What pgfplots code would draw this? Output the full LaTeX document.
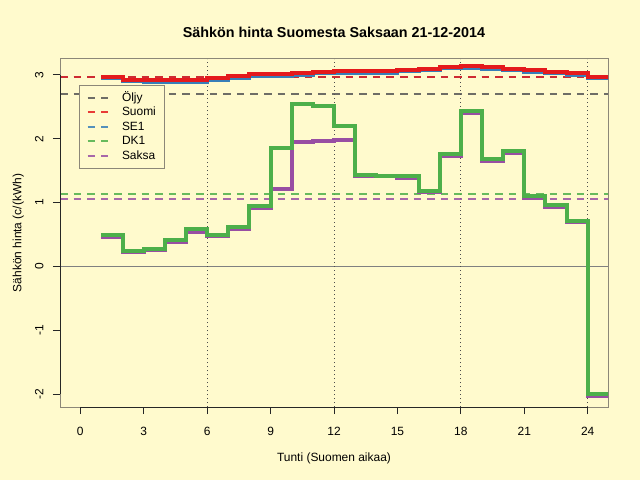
\documentclass[border=0pt]{standalone}
\usepackage{fontspec}
\setmainfont{Liberation Sans}
\usepackage{pgfplots}
\pgfplotsset{compat=1.18}
\usepackage{pgfplotstable}
\definecolor{bg}{RGB}{255,250,205}
\definecolor{boxc}{RGB}{140,135,120}
\definecolor{oljy}{RGB}{85,85,85}
\definecolor{suomi}{HTML}{E41A1C}
\definecolor{se}{HTML}{377EB8}
\definecolor{dk}{HTML}{4DAF4A}
\definecolor{saksa}{HTML}{984EA3}
\pgfplotstableread{
x y
1 2.970
2 2.925
3 2.920
4 2.920
5 2.920
6 2.950
7 2.980
8 3.010
9 3.010
10 3.030
11 3.050
12 3.060
13 3.060
14 3.060
15 3.080
16 3.100
17 3.130
18 3.140
19 3.120
20 3.100
21 3.070
22 3.050
23 3.030
24 2.970
25 2.970
}\suomi
\pgfplotstableread{
x y
1 2.945
2 2.900
3 2.895
4 2.895
5 2.895
6 2.925
7 2.955
8 2.985
9 2.985
10 3.005
11 3.025
12 3.035
13 3.035
14 3.035
15 3.055
16 3.075
17 3.105
18 3.115
19 3.095
20 3.075
21 3.045
22 3.025
23 3.005
24 2.945
25 2.945
}\seone
\pgfplotstableread{
x y
1 0.49
2 0.25
3 0.28
4 0.42
5 0.58
6 0.50
7 0.62
8 0.95
9 1.85
10 2.54
11 2.51
12 2.20
13 1.43
14 1.42
15 1.42
16 1.19
17 1.76
18 2.44
19 1.69
20 1.81
21 1.10
22 0.96
23 0.72
24 -2.00
25 -2.00
}\dkone
\pgfplotstableread{
x y
1 0.47
2 0.225
3 0.26
4 0.39
5 0.545
6 0.475
7 0.58
8 0.92
9 1.22
10 1.95
11 1.97
12 1.98
13 1.41
14 1.41
15 1.39
16 1.16
17 1.73
18 2.41
19 1.66
20 1.78
21 1.08
22 0.93
23 0.69
24 -2.02
25 -2.02
}\saksa
\tikzset{avg/.style={line width=2bp, dash pattern=on 7.6bp off 6bp, opacity=0.85}}
\begin{document}
\begin{tikzpicture}
\fill[bg] (-60bp,-73bp) rectangle (580bp,407bp);
\begin{axis}[
  at={(0bp,0bp)}, anchor=south west,
  width=548bp, height=348bp, scale only axis,
  xmin=-0.96, xmax=24.96, ymin=-2.2, ymax=3.25,
  clip mode=individual,
  axis background/.style={fill=bg},
  axis line style={draw=boxc, line width=1bp},
  tick style={draw=black!85, line width=1bp},
  major tick length=7bp, tick align=outside,
  xtick={0,3,...,24}, ytick={-2,-1,0,1,2,3},
  xtick pos=bottom, ytick pos=left,
  /pgf/number format/assume math mode=true,
  ticklabel style={font=\fontsize{12}{14}\selectfont},
  xticklabel style={yshift=-10bp},
  yticklabel style={xshift=-6bp, rotate=90, anchor=south},
  title={Sähkön hinta Suomesta Saksaan 21-12-2014},
  title style={at={([yshift=15.8bp]axis description cs:0.5,1)}, anchor=base, font=\bfseries\fontsize{14.4}{16}\selectfont, inner sep=0pt},
  xlabel={Tunti (Suomen aikaa)},
  xlabel style={at={([yshift=-54bp]axis description cs:0.5,0)}, anchor=base, font=\fontsize{12}{14}\selectfont, inner sep=0pt},
  ylabel={Sähkön hinta (c/(kWh)},
  ylabel style={at={([xshift=-38.5bp]axis description cs:0,0.5)}, anchor=base, rotate=0, font=\fontsize{12}{14}\selectfont, inner sep=0pt},
  legend style={at={(rel axis cs:0.0347,0.925)}, anchor=north west, draw=boxc, line width=1bp, fill=bg,
    font=\fontsize{12}{14}\selectfont, inner xsep=7bp, inner ysep=5bp, column sep=12bp,
    nodes={inner sep=1.5bp, text height=9bp, text depth=2.5bp}, row sep=0bp},
  legend cell align=left,
  legend image code/.code={\draw[#1] (0bp,0bp) -- (20bp,0bp);},
]
\addlegendimage{avg, oljy}
\addlegendentry{Öljy}
\addlegendimage{avg, suomi}
\addlegendentry{Suomi}
\addlegendimage{avg, se}
\addlegendentry{SE1}
\addlegendimage{avg, dk}
\addlegendentry{DK1}
\addlegendimage{avg, saksa}
\addlegendentry{Saksa}
% reference lines
\addplot[forget plot, black!50, line width=1bp] coordinates {(-0.96,0) (24.96,0)};
\addplot[forget plot, black!70, line width=1bp, dash pattern=on 1bp off 3bp] coordinates {(6,-2.2) (6,3.25)};
\addplot[forget plot, black!70, line width=1bp, dash pattern=on 1bp off 3bp] coordinates {(12,-2.2) (12,3.25)};
\addplot[forget plot, black!70, line width=1bp, dash pattern=on 1bp off 3bp] coordinates {(18,-2.2) (18,3.25)};
\addplot[forget plot, black!70, line width=1bp, dash pattern=on 1bp off 3bp] coordinates {(24,-2.2) (24,3.25)};
% averages
\addplot[forget plot, avg, oljy] coordinates {(-0.96,2.70) (24.96,2.70)};
\addplot[forget plot, avg, se] coordinates {(-0.96,2.965) (24.96,2.965)};
\addplot[forget plot, avg, suomi] coordinates {(-0.96,2.97) (24.96,2.97)};
\addplot[forget plot, avg, saksa] coordinates {(-0.96,1.064) (24.96,1.064)};
\addplot[forget plot, avg, dk] coordinates {(-0.96,1.13) (24.96,1.13)};
% hourly prices
\addplot[forget plot, const plot, saksa, line width=4bp] table {\saksa};
\addplot[forget plot, const plot, dk, line width=4bp] table {\dkone};
\addplot[forget plot, const plot, se, line width=4bp] table {\seone};
\addplot[forget plot, const plot, suomi, line width=4bp] table {\suomi};
% dark axis lines spanning the tick range
\draw[black!85, line width=1bp] (axis cs:0,-2.2) -- (axis cs:24,-2.2);
\draw[black!85, line width=1bp] (axis cs:-0.96,-2) -- (axis cs:-0.96,3);
\end{axis}
\end{tikzpicture}
\end{document}
